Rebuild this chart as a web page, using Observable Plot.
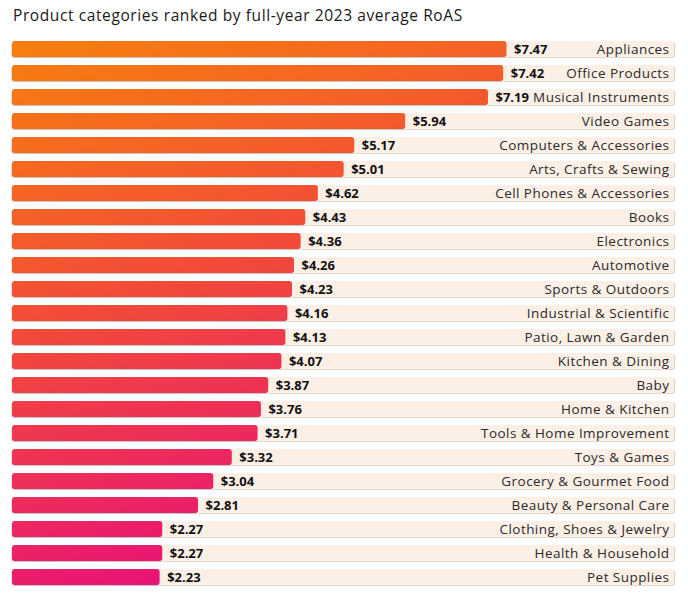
<!DOCTYPE html>
<html>
<head>
<meta charset="utf-8">
<script src="https://cdn.jsdelivr.net/npm/d3@7"></script>
<script src="https://cdn.jsdelivr.net/npm/@observablehq/plot@0.6"></script>
<style>
  html, body { margin: 0; padding: 0; background: #fff; }
  #title { font-family: "Open Sans", sans-serif; font-size: 15.5px; letter-spacing: 0.6px; color: #1a1a1a; height: 32px; line-height: 30px; padding-left: 13px; box-sizing: border-box; white-space: nowrap; }
  svg text { font-family: "Open Sans", sans-serif; }
  svg .cat text { letter-spacing: 0.45px; }
</style>
</head>
<body>
<div id="title">Product categories ranked by full-year 2023 average RoAS</div>
<div id="chart"></div>
<script>
const categories = ["Appliances","Office Products","Musical Instruments","Video Games","Computers & Accessories","Arts, Crafts & Sewing","Cell Phones & Accessories","Books","Electronics","Automotive","Sports & Outdoors","Industrial & Scientific","Patio, Lawn & Garden","Kitchen & Dining","Baby","Home & Kitchen","Tools & Home Improvement","Toys & Games","Grocery & Gourmet Food","Beauty & Personal Care","Clothing, Shoes & Jewelry","Health & Household","Pet Supplies"];
const roas = [7.47,7.42,7.19,5.94,5.17,5.01,4.62,4.43,4.36,4.26,4.23,4.16,4.13,4.07,3.87,3.76,3.71,3.32,3.04,2.81,2.27,2.27,2.23];
const axisMax = 10;

const data = categories.map((c, i) => ({category: c, value: roas[i], full: axisMax}));

const chart = Plot.plot({
  width: 688,
  height: 569,
  marginTop: 0,
  marginBottom: 7,
  marginLeft: 12,
  marginRight: 14,
  x: {domain: [0, axisMax], axis: null},
  y: {domain: categories, padding: 1/3, axis: null},
  style: {fontFamily: "Open Sans, sans-serif"},
  marks: [
    Plot.barX(data, {y: "category", x: "full", fill: "#d6ccc6", rx: 2, dx: 0.8, dy: 0.8}),
    Plot.barX(data, {y: "category", x: "full", fill: "#fcefe6", rx: 2}),
    Plot.barX(data, {y: "category", x: "value", fill: "#a8a8a8", fillOpacity: 0.6, rx: 3, dx: -0.6, dy: 0.8}),
    Plot.barX(data, {y: "category", x: "value", fill: "url(#roasGrad)", rx: 3}),
    Plot.text(data, {y: "category", x: "value", text: d => "$" + d.value.toFixed(2), textAnchor: "start", dx: 7, fontWeight: "bold", fontSize: 13, fill: "#111"}),
    Plot.text(data, {y: "category", x: "full", text: "category", textAnchor: "end", dx: -5, fontSize: 13.5, fill: "#2a2a2a", className: "cat"})
  ]
});

const ns = "http://www.w3.org/2000/svg";
const defs = document.createElementNS(ns, "defs");
const grad = document.createElementNS(ns, "linearGradient");
grad.setAttribute("id", "roasGrad");
grad.setAttribute("gradientUnits", "userSpaceOnUse");
grad.setAttribute("x1", "0"); grad.setAttribute("y1", "0");
grad.setAttribute("x2", "190"); grad.setAttribute("y2", "560");
[["0", "#f8820a"], ["0.5", "#f24a3a"], ["1", "#e8107a"]].forEach(([o, c]) => {
  const s = document.createElementNS(ns, "stop");
  s.setAttribute("offset", o); s.setAttribute("stop-color", c);
  grad.appendChild(s);
});
defs.appendChild(grad);
chart.insertBefore(defs, chart.firstChild);
document.getElementById("chart").appendChild(chart);
</script>
</body>
</html>
